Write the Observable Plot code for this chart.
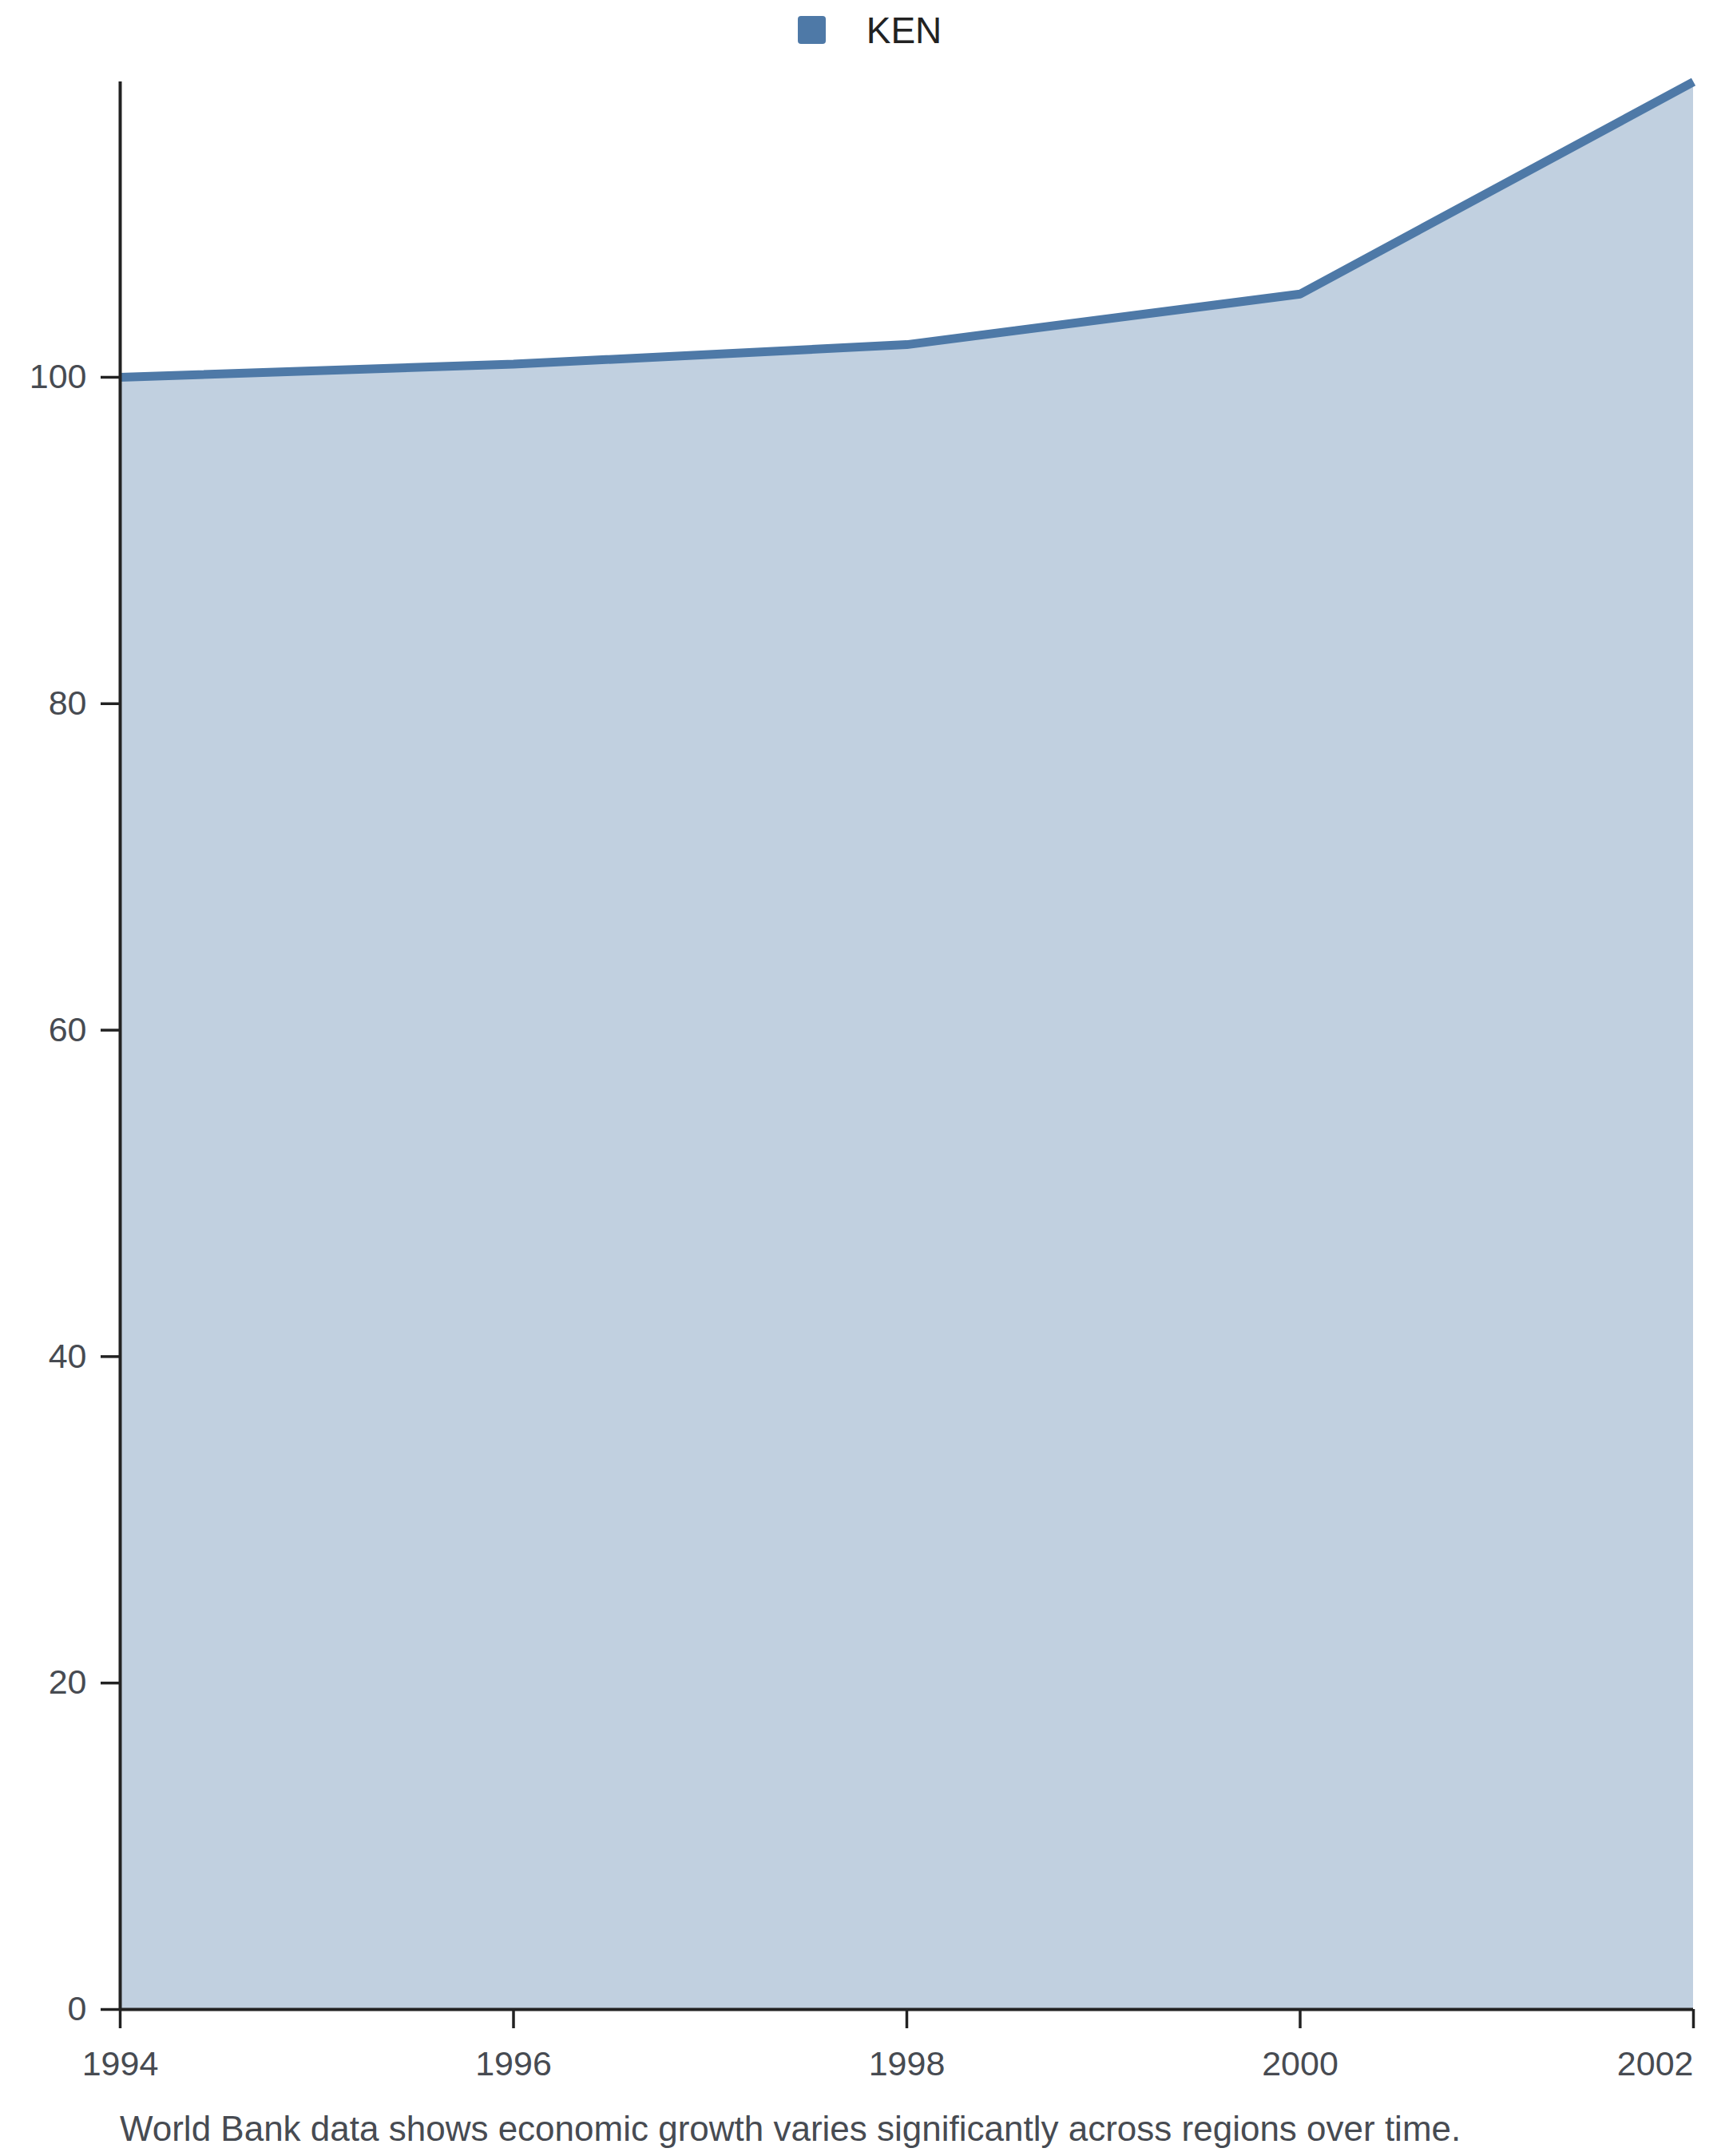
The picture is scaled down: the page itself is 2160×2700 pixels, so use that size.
<!DOCTYPE html>
<html>
<head>
<meta charset="utf-8">
<script src="https://cdn.jsdelivr.net/npm/d3@7"></script>
<script src="https://cdn.jsdelivr.net/npm/@observablehq/plot@0.6"></script>
<style>
  body { margin: 0; background: #fff; font-family: "Liberation Sans", Arial, sans-serif; }
  #legend { height: 75px; display: flex; justify-content: center; align-items: center; gap: 51px; font-size: 46px; color: #222; padding-left: 18px; }
  #legend .sw { width: 35px; height: 35px; border-radius: 4px; display: inline-block; }
  #caption { margin-left: 150px; margin-top: 21px; font-size: 44px; color: #474b52; }
</style>
</head>
<body>
<div id="legend"></div>
<div id="chart"></div>
<div id="caption"></div>
<script>
// KEN series
const series = ["KEN"]
const years = [1994, 1996, 1998, 2000, 2002]
const values = [100, 100.8, 102.0, 105.1, 118.1]
const yTicks = [0, 20, 40, 60, 80, 100]
const captionText = "World Bank data shows economic growth varies significantly across regions over time."

const color = "#4e79a7"
const data = years.map((yr, i) => ({year: yr, value: values[i], country: series[0]}))
const lastYear = d3.max(years)

// legend on top
const legend = d3.select('#legend')
series.forEach(s => {
  legend.append('span').attr('class', 'sw').style('background', color)
  legend.append('span').text(s)
})

const tickStyle = { tickSize: 24, stroke: "#222", strokeWidth: 3.5, fill: "#474b52", label: null }

let chart = Plot.plot({
  width: 2160,
  height: 2545,
  marginLeft: 150,
  marginRight: 40,
  marginTop: 27,
  marginBottom: 104,
  x: { domain: [d3.min(years), lastYear] },
  y: { domain: [0, d3.max(values)] },
  style: {
    fontFamily: '"Liberation Sans", Arial, sans-serif',
    fontSize: '43px',
    background: '#fff'
  },
  marks: [
    Plot.areaY(data, { x: "year", y: "value", fill: color, fillOpacity: 0.35 }),
    Plot.lineY(data, {
      x: "year", y: "value",
      stroke: color, strokeWidth: 11,
      strokeLinecap: "butt", strokeLinejoin: "miter"
    }),
    Plot.ruleX([d3.min(years)], { stroke: "#222", strokeWidth: 4 }),
    Plot.ruleY([0], { stroke: "#222", strokeWidth: 4 }),
    Plot.axisX({ ...tickStyle, ticks: years.filter(d => d < lastYear), tickFormat: "d", tickPadding: 28 }),
    // last label sits flush with the right end
    Plot.axisX({ ...tickStyle, ticks: [lastYear], tickFormat: "d", tickPadding: 28, textAnchor: "end" }),
    Plot.axisY({ ...tickStyle, ticks: yTicks, tickPadding: 18 })
  ]
})
d3.select('#chart').append(() => chart)
d3.select('#caption').text(captionText)
</script>
</body>
</html>
